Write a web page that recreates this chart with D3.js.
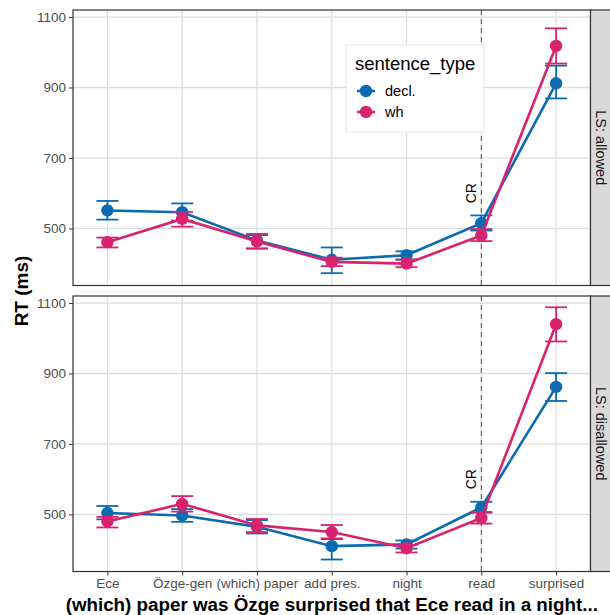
<!DOCTYPE html>
<html>
<head>
<meta charset="utf-8">
<script src="https://cdn.jsdelivr.net/npm/d3@7"></script>
<style>
  body { margin: 0; background: #fff; }
  text { font-family: "Liberation Sans", Arial, Helvetica, sans-serif; }
</style>
</head>
<body>
<div id="container"></div>
<script>
// regions of the sentence
var regions = ["Ece", "Özge-gen", "(which) paper", "add pres.", "night", "read", "surprised"];
var facets = ["LS: allowed", "LS: disallowed"];
var types = ["decl.", "wh"];
var yTicks = [500, 700, 900, 1100];

// means and error limits, one array per facet and sentence type
var allowedDecl = [551, 546, 466, 411, 424, 515, 912];
var allowedDeclLo = [525, 522, 443, 373, 411, 494, 869];
var allowedDeclHi = [578, 571, 484, 446, 435, 537, 962];
var allowedWh = [461, 527, 463, 405, 400, 480, 1018];
var allowedWhLo = [446, 505, 443, 393, 390, 464, 968];
var allowedWhHi = [474, 547, 481, 417, 412, 498, 1068];

var disDecl = [504, 497, 465, 410, 415, 520, 862];
var disDeclLo = [486, 479, 446, 372, 403, 505, 822];
var disDeclHi = [524, 515, 484, 430, 426, 536, 901];
var disWh = [480, 530, 469, 450, 404, 490, 1040];
var disWhLo = [463, 508, 450, 432, 392, 474, 991];
var disWhHi = [493, 552, 487, 470, 413, 507, 1088];

var panelData = [
  [{mean: allowedDecl, lo: allowedDeclLo, hi: allowedDeclHi},
   {mean: allowedWh, lo: allowedWhLo, hi: allowedWhHi}],
  [{mean: disDecl, lo: disDeclLo, hi: disDeclHi},
   {mean: disWh, lo: disWhLo, hi: disWhHi}]
];

var colors = ["#0a6bb0", "#d9236f"];

var width = 610, height = 615;
var left = 73, right = 590.5;
var panelTops = [10, 296], panelH = 275.5;

var svg = d3.select("#container").append("svg")
  .attr("width", width).attr("height", height);

var x = d3.scalePoint().domain(regions).range([left, right]).padding(0.46);

panelData.forEach(function(series, p) {
  var top = panelTops[p];
  var y = d3.scaleLinear().domain([338, 1120]).range([top + panelH, top]);
  var g = svg.append("g");

  // background + grid
  g.append("rect").attr("x", left).attr("y", top).attr("width", right - left)
    .attr("height", panelH).attr("fill", "#fff");
  g.selectAll(".hg").data(yTicks).enter().append("line")
    .attr("x1", left).attr("x2", right)
    .attr("y1", function(d) { return y(d); }).attr("y2", function(d) { return y(d); })
    .attr("stroke", "#dedede").attr("stroke-width", 1.3);
  g.selectAll(".vg").data(regions).enter().append("line")
    .attr("x1", function(d) { return x(d); }).attr("x2", function(d) { return x(d); })
    .attr("y1", top).attr("y2", top + panelH)
    .attr("stroke", "#dedede").attr("stroke-width", 1.3);

  // critical region marker
  g.append("line")
    .attr("x1", x("read")).attr("x2", x("read"))
    .attr("y1", top).attr("y2", top + panelH)
    .attr("stroke", "#555").attr("stroke-width", 1).attr("stroke-dasharray", "5,4");
  g.append("text")
    .attr("transform", "translate(" + (x("read") - 5) + "," + y(600) + ") rotate(-90)")
    .attr("text-anchor", "middle").attr("font-size", 14).attr("fill", "#000")
    .text("CR");

  // y axis
  var yAxis = d3.axisLeft(y).tickValues(yTicks).tickFormat(d3.format("d")).tickSize(4).tickPadding(3);
  var ya = g.append("g").attr("transform", "translate(" + left + ",0)").call(yAxis);
  ya.select(".domain").remove();
  ya.selectAll("line").attr("stroke", "#333");
  ya.selectAll("text").attr("font-size", 13.5).attr("fill", "#4d4d4d")
    .attr("font-family", "Liberation Sans, Arial, sans-serif");

  // series
  series.forEach(function(s, k) {
    var c = colors[k];
    var line = d3.line().x(function(d, i) { return x(regions[i]); }).y(function(d) { return y(d); });
    g.append("path").datum(s.mean).attr("d", line)
      .attr("fill", "none").attr("stroke", c).attr("stroke-width", 2.6);
    var eb = g.append("g").attr("stroke", c).attr("stroke-width", 1.8);
    regions.forEach(function(r, i) {
      var cx = x(r);
      eb.append("line").attr("x1", cx).attr("x2", cx).attr("y1", y(s.lo[i])).attr("y2", y(s.hi[i]));
      eb.append("line").attr("x1", cx - 11).attr("x2", cx + 11).attr("y1", y(s.lo[i])).attr("y2", y(s.lo[i]));
      eb.append("line").attr("x1", cx - 11).attr("x2", cx + 11).attr("y1", y(s.hi[i])).attr("y2", y(s.hi[i]));
    });
    g.selectAll(".pt" + k).data(s.mean).enter().append("circle")
      .attr("cx", function(d, i) { return x(regions[i]); })
      .attr("cy", function(d) { return y(d); })
      .attr("r", 6.2).attr("fill", c);
  });

  // panel border
  g.append("rect").attr("x", left).attr("y", top).attr("width", right - left)
    .attr("height", panelH).attr("fill", "none").attr("stroke", "#333").attr("stroke-width", 1.2);

  // strip
  g.append("rect").attr("x", right).attr("y", top).attr("width", 30).attr("height", panelH)
    .attr("fill", "#d9d9d9").attr("stroke", "#333").attr("stroke-width", 1.2);
  g.append("text")
    .attr("transform", "translate(" + 595.5 + "," + (top + panelH / 2) + ") rotate(90)")
    .attr("text-anchor", "middle").attr("font-size", 14.5).attr("fill", "#1a1a1a")
    .text(facets[p]);

  // x axis on bottom panel
  if (p === 1) {
    var xa = g.append("g").attr("transform", "translate(0," + (top + panelH) + ")")
      .call(d3.axisBottom(x).tickSize(4).tickPadding(3));
    xa.select(".domain").remove();
    xa.selectAll("line").attr("stroke", "#333");
    xa.selectAll("text").attr("font-size", 13.5).attr("fill", "#4d4d4d")
      .attr("font-family", "Liberation Sans, Arial, sans-serif");
  }
});

// legend
var lg = svg.append("g").attr("transform", "translate(346,45)");
lg.append("rect").attr("width", 138).attr("height", 87).attr("fill", "#fff")
  .attr("stroke", "#e6e6e6").attr("stroke-width", 1);
lg.append("text").attr("x", 9).attr("y", 25).attr("font-size", 18.5).attr("fill", "#000").text("sentence_type");
types.forEach(function(t, k) {
  var cy = 46 + k * 21;
  lg.append("line").attr("x1", 11).attr("x2", 29).attr("y1", cy).attr("y2", cy)
    .attr("stroke", colors[k]).attr("stroke-width", 2.6);
  lg.append("circle").attr("cx", 20).attr("cy", cy).attr("r", 6.2).attr("fill", colors[k]);
  lg.append("text").attr("x", 39).attr("y", cy + 5).attr("font-size", 14.5).attr("fill", "#000").text(t);
});

// axis titles
svg.append("text")
  .attr("transform", "translate(" + 28 + "," + 291 + ") rotate(-90)")
  .attr("text-anchor", "middle").attr("font-size", 19).attr("font-weight", "bold").text("RT (ms)");
svg.append("text")
  .attr("x", (left + right) / 2).attr("y", 611)
  .attr("text-anchor", "middle").attr("font-size", 18.8).attr("font-weight", "bold")
  .text("(which) paper was Özge surprised that Ece read in a night...");
</script>
</body>
</html>
